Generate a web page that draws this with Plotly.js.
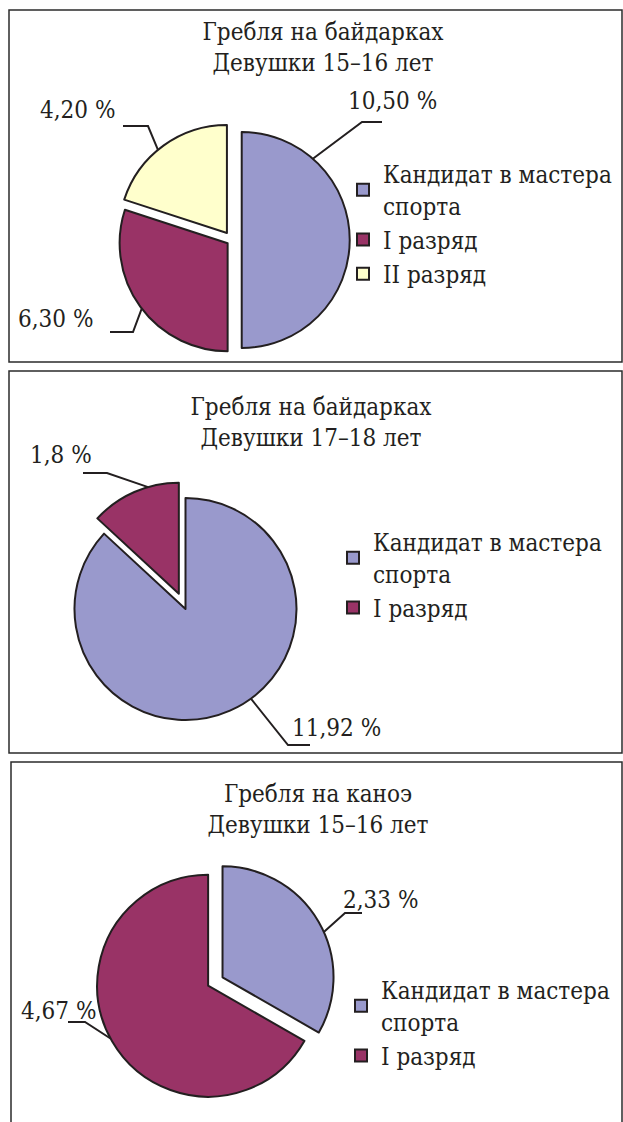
<!DOCTYPE html>
<html><head><meta charset="utf-8">
<script src="https://cdn.plot.ly/plotly-3.0.1.min.js"></script>
<style>
html,body{margin:0;padding:0;background:#fff;width:623px;height:1122px;overflow:hidden;}
.panel{position:absolute;left:0;width:623px;overflow:hidden;}
</style></head><body>
<div id="c1" class="panel" style="top:0px;height:366px"></div>
<div id="c2" class="panel" style="top:366px;height:391px"></div>
<div id="c3" class="panel" style="top:757px;height:365px"></div>
<script>
// ---- data ----
const categories = ["Кандидат в мастера<br>спорта", "I разряд", "II разряд"];
const sliceColors = ["#9999cc", "#993366", "#ffffcc"];
const chartTitles = [
  "Гребля на байдарках<br>Девушки 15–16 лет",
  "Гребля на байдарках<br>Девушки 17–18 лет",
  "Гребля на каноэ<br>Девушки 15–16 лет"
];
const kayakGirls1516 = [10.50, 6.30, 4.20];
const kayakGirls1718 = [11.92, 1.8];
const canoeGirls1516 = [2.33, 4.67];
const kayakGirls1516Text = ["10,50 %", "6,30 %", "4,20 %"];
const kayakGirls1718Text = ["11,92 %", "1,8 %"];
const canoeGirls1516Text = ["2,33 %", "4,67 %"];

// ---- layout (page pixel positions) ----
const W = 623;
const FONT = "DejaVu Serif Condensed, DejaVu Serif, serif";
const INK = "#231f20";
const panels = [
  {id:"c1", top:0, H:366, box:[9,10,622,362], title:chartTitles[0], titleX:323, titleY:40,
   values:kayakGirls1516, text:kayakGirls1516Text, cx:232, cy:240, r:108, pull:[0.09,0.05,0.08],
   legendX:343, legendY:152,
   leaders:[{f:0.229, elbow:[362,122], end:[382,122], tx:392, ty:101},
            {f:0.488, elbow:[133,332], end:[110,332], tx:55, ty:319},
            {f:0.449, elbow:[148,126], end:[123,126], tx:77, ty:110}]},
  {id:"c2", top:366, H:391, box:[9,371,622,753], title:chartTitles[1], titleX:311, titleY:415,
   values:kayakGirls1718, text:kayakGirls1718Text, cx:185.5, cy:609, r:111, pull:[0,0.15],
   legendX:333, legendY:520,
   leaders:[{f:0.46, elbow:[288,745], end:[310,745], tx:336, ty:728},
            {f:0.66, elbow:[107,473], end:[83,473], tx:61, ty:455}]},
  {id:"c3", top:757, H:365, box:[11,762,622,1140], title:chartTitles[2], titleX:318, titleY:802,
   values:canoeGirls1516, text:canoeGirls1516Text, cx:211, cy:984, r:111, pull:[0.12,0.03],
   legendX:341, legendY:968,
   leaders:[{f:0.55, elbow:[345,913], end:[362,913], tx:380, ty:900},
            {f:0.507, elbow:[85,1022], end:[68,1022], tx:58, ty:1011}]}
];

panels.forEach(p => {
  const px = X => X / W;
  const py = Y => 1 - (Y - p.top) / p.H;
  const n = p.values.length;
  const maxPull = Math.max(...p.pull);
  const R = p.r * (1 + maxPull);
  const total = p.values.reduce((a,b)=>a+b,0);
  const rad = d => d * Math.PI / 180;
  let cum = 0;
  const shapes = [{type:"rect", xref:"paper", yref:"paper",
    x0:px(p.box[0]), x1:px(p.box[2]), y0:py(p.box[3]), y1:py(p.box[1]),
    line:{color:"#2b2b2b", width:1.5}, fillcolor:"rgba(0,0,0,0)", layer:"below"}];
  const annotations = [];
  p.values.forEach((v,i) => {
    const a0 = 360 * cum / total;
    cum += v;
    const a1 = 360 * cum / total;
    const mid = (a0 + a1) / 2;
    const ccx = p.cx + p.pull[i] * p.r * Math.sin(rad(mid));
    const ccy = p.cy - p.pull[i] * p.r * Math.cos(rad(mid));
    const L = p.leaders[i];
    const a = a0 + L.f * (a1 - a0);
    const sx = ccx + p.r * Math.sin(rad(a));
    const sy = ccy - p.r * Math.cos(rad(a));
    shapes.push({type:"path", xref:"paper", yref:"paper",
      path:`M${px(sx)},${py(sy)} L${px(L.elbow[0])},${py(L.elbow[1])} L${px(L.end[0])},${py(L.end[1])}`,
      line:{color:INK, width:2}});
    annotations.push({xref:"paper", yref:"paper", x:px(L.tx), y:py(L.ty), xanchor:"center", yanchor:"middle",
      text:p.text[i], showarrow:false, font:{family:FONT, size:24, color:INK}});
  });
  const trace = {
    type:"pie", values:p.values, labels:categories.slice(0,n),
    marker:{colors:sliceColors.slice(0,n), line:{color:INK, width:2}},
    pull:p.pull, sort:false, direction:"clockwise", rotation:0,
    textinfo:"none", hoverinfo:"label+value",
    domain:{x:[px(p.cx - R), px(p.cx + R)], y:[py(p.cy + R), py(p.cy - R)]}
  };
  const layout = {
    width:W, height:p.H, margin:{l:0,r:0,t:0,b:0},
    paper_bgcolor:"rgba(0,0,0,0)", plot_bgcolor:"rgba(0,0,0,0)",
    font:{family:FONT, size:24, color:INK},
    title:{text:p.title, x:px(p.titleX), xanchor:"center", xref:"paper",
      y:py(p.titleY), yanchor:"middle", yref:"container", font:{family:FONT, size:24, color:INK}},
    showlegend:true,
    legend:{x:px(p.legendX), xanchor:"left", y:py(p.legendY), yanchor:"top",
      font:{family:FONT, size:24, color:INK}, bgcolor:"rgba(0,0,0,0)", traceorder:"normal"},
    shapes:shapes, annotations:annotations
  };
  Plotly.newPlot(p.id, [trace], layout, {displayModeBar:false, responsive:false});
});
</script>
</body></html>
